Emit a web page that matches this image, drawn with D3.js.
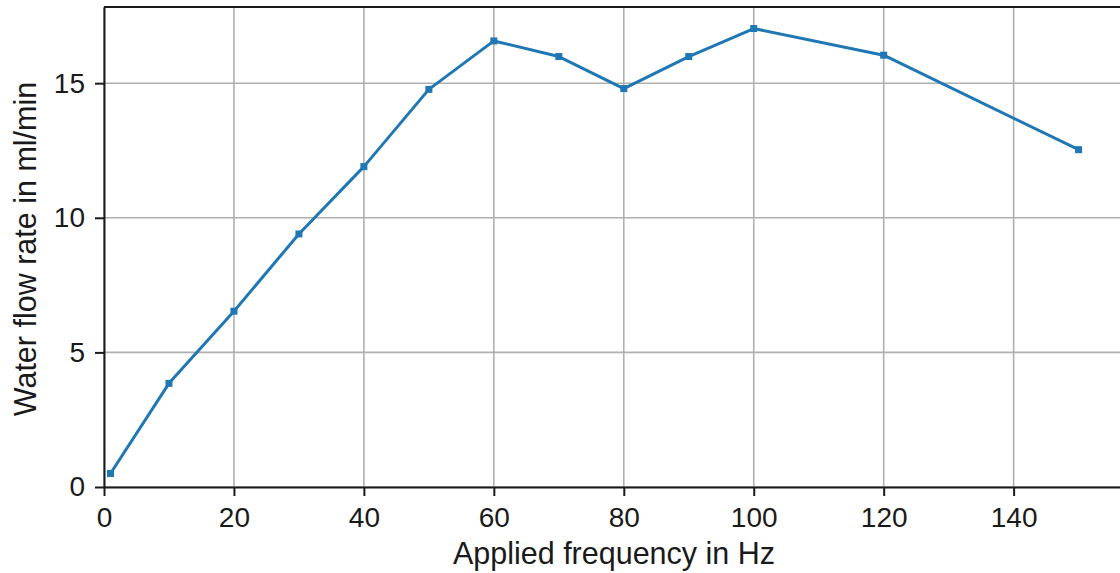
<!DOCTYPE html>
<html><head><meta charset="utf-8">
<script src="https://cdn.jsdelivr.net/npm/d3@7"></script>
<style>body{margin:0;background:#fff;overflow:hidden}svg{display:block}</style>
</head><body>
<script>
const freq = [1, 10, 20, 30, 40, 50, 60, 70, 80, 90, 100, 120, 150];
const flow = [0.5, 3.85, 6.53, 9.4, 11.9, 14.77, 16.57, 15.99, 14.8, 15.99, 17.03, 16.04, 12.53];
const xTicks = [0, 20, 40, 60, 80, 100, 120, 140];
const yTicks = [0, 5, 10, 15];
const xLabel = "Applied frequency in Hz";
const yLabel = "Water flow rate in ml/min";

const W = 1120, H = 573;
const svg = d3.select("body").append("svg").attr("width", W).attr("height", H);
const mLeft = 104, mTop = 7, mBottom = 487, mRight = 1127;
const x = d3.scaleLinear().domain([0, 157.45]).range([mLeft, mRight]);
const y = d3.scaleLinear().domain([0, 17.83]).range([mBottom, mTop]);
const font = "'Liberation Sans', Arial, sans-serif";

// grid
svg.append("g").selectAll("line").data(xTicks).join("line")
  .attr("x1", d => x(d)).attr("x2", d => x(d)).attr("y1", mTop).attr("y2", mBottom)
  .attr("stroke", "#b0b0b0").attr("stroke-width", 1.6);
svg.append("g").selectAll("line").data(yTicks).join("line")
  .attr("y1", d => y(d)).attr("y2", d => y(d)).attr("x1", mLeft).attr("x2", mRight)
  .attr("stroke", "#b0b0b0").attr("stroke-width", 1.6);

// axes
const xAxis = svg.append("g").attr("transform", `translate(0,${mBottom})`)
  .call(d3.axisBottom(x).tickValues(xTicks).tickSize(9).tickPadding(11).tickSizeOuter(0));
const yAxis = svg.append("g").attr("transform", `translate(${mLeft},0)`)
  .call(d3.axisLeft(y).tickValues(yTicks).tickSize(9).tickPadding(10).tickSizeOuter(0));
[xAxis, yAxis].forEach(g => {
  g.select(".domain").attr("stroke", "#1a1a1a").attr("stroke-width", 2);
  g.selectAll(".tick line").attr("stroke", "#1a1a1a").attr("stroke-width", 2);
  g.selectAll(".tick text").attr("font-family", font).attr("font-size", 28).attr("fill", "#1a1a1a");
});
// top spine
svg.append("line").attr("x1", mLeft).attr("x2", mRight).attr("y1", mTop).attr("y2", mTop)
  .attr("stroke", "#1a1a1a").attr("stroke-width", 2);

// line
const pts = freq.map((f, i) => [f, flow[i]]);
svg.append("path").datum(pts)
  .attr("fill", "none").attr("stroke", "#1f77b4").attr("stroke-width", 3)
  .attr("stroke-linejoin", "round")
  .attr("d", d3.line().x(d => x(d[0])).y(d => y(d[1])));
svg.append("g").selectAll("rect").data(pts).join("rect")
  .attr("x", d => x(d[0]) - 3.5).attr("y", d => y(d[1]) - 3.5)
  .attr("width", 7).attr("height", 7).attr("fill", "#1f77b4");

// labels
svg.append("text").attr("x", 614).attr("y", 564)
  .attr("text-anchor", "middle").attr("font-family", font).attr("font-size", 30.5)
  .attr("fill", "#1a1a1a").text(xLabel);
svg.append("text").attr("transform", `translate(36,249) rotate(-90)`)
  .attr("text-anchor", "middle").attr("font-family", font).attr("font-size", 30.5)
  .attr("fill", "#1a1a1a").text(yLabel);
</script>
</body></html>
